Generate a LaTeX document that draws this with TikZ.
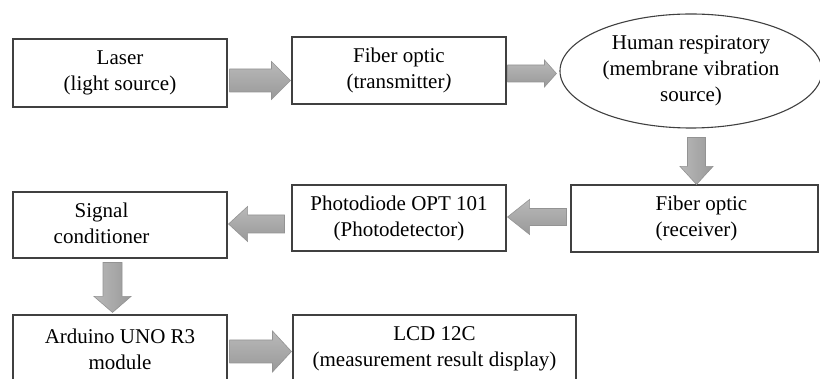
\documentclass[tikz,border=0pt]{standalone}
\usepackage{fontspec}
\setmainfont{Liberation Serif}
\usetikzlibrary{shapes.geometric,calc}

\tikzset{
  block/.style={shape=rectangle,draw=black!75,line width=1.1pt,inner sep=0pt,align=center,
    font=\fontsize{21}{26}\selectfont},
  hbody/.style={draw=gray!85,line width=0.6pt,top color=gray!55,middle color=gray!12,bottom color=gray!80},
  vbody/.style={draw=gray!85,line width=0.6pt,left color=gray!55,middle color=gray!12,right color=gray!80},
}

% block arrows: tail point, tip point, half shaft, half head, head length
\newcommand{\harrow}[5]{%
  \shade[hbody] let \p1=#1, \p2=#2, \n1={sign(\x2-\x1)*#5} in
    (\x1,\y1-#3) -- (\x2-\n1,\y1-#3) -- (\x2-\n1,\y1-#4) -- (\x2,\y1)
    -- (\x2-\n1,\y1+#4) -- (\x2-\n1,\y1+#3) -- (\x1,\y1+#3) -- cycle;}
\newcommand{\varrow}[5]{%
  \shade[vbody] let \p1=#1, \p2=#2, \n1={sign(\y2-\y1)*#5} in
    (\x1-#3,\y1) -- (\x1-#3,\y2-\n1) -- (\x1-#4,\y2-\n1) -- (\x1,\y2)
    -- (\x1+#4,\y2-\n1) -- (\x1+#3,\y2-\n1) -- (\x1+#3,\y1) -- cycle;}

\begin{document}
\begin{tikzpicture}[x=1pt,y=-1pt]
  \useasboundingbox (0,0) rectangle (820,379);
  \clip (0,0) rectangle (820,379);

  \node[block,minimum width=214pt,minimum height=68pt] (laser)   at (120,73)    {Laser\\(light source)};
  \node[block,minimum width=214pt,minimum height=67pt] (fibertx) at (399,70.5)  {Fiber optic\\(transmitter\textit{)}};
  \node[block,shape=ellipse,minimum width=262pt,minimum height=114pt] (resp) at (691,71)
        {Human respiratory\\(membrane vibration\\source)};
  \node[block,minimum width=247pt,minimum height=67pt] (fiberrx) at (694.5,218.5)
        {\begin{tabular}{@{\hspace{14pt}}l@{}}Fiber optic\\(receiver)\end{tabular}};
  \node[block,minimum width=214pt,minimum height=66pt] (diode)   at (399,218)   {Photodiode OPT 101\\(Photodetector)};
  \node[block,minimum width=214pt,minimum height=66pt] (signal)  at (120,225)
        {\begin{tabular}{@{}c@{\hspace{37pt}}}Signal\\conditioner\end{tabular}};
  \node[block,minimum width=214pt,minimum height=68pt] (arduino) at (120,349)   {Arduino UNO R3\\module};
  \node[block,minimum width=283pt,minimum height=68pt] (lcd)     at (434.5,349) {LCD 12C\\(measurement result display)};

  \harrow{($(laser.east)+(2,7.5)$)}{($(fibertx.west)+(-1,0)$)}{11.5pt}{19pt}{19pt}
  \harrow{($(fibertx.east)+(1,3)$)}{($(resp.west)+(-3,0)$)}{8.5pt}{13.5pt}{12pt}
  \varrow{($(resp.south)+(5.5,9)$)}{(fiberrx.north)}{9pt}{16.5pt}{18pt}
  \harrow{($(fiberrx.west)+(-4,-1.5)$)}{($(diode.east)+(1,0)$)}{8.5pt}{17.5pt}{22pt}
  \harrow{($(diode.west)+(-7,6)$)}{($(signal.east)+(1,0)$)}{9pt}{17.5pt}{19pt}
  \varrow{($(signal.south)+(-7.5,4)$)}{($(arduino.north)+(0,-2)$)}{9.5pt}{18.5pt}{16pt}
  \harrow{($(arduino.east)+(2,2.5)$)}{($(lcd.west)+(-1,0)$)}{11.5pt}{20.5pt}{19pt}
\end{tikzpicture}
\end{document}
